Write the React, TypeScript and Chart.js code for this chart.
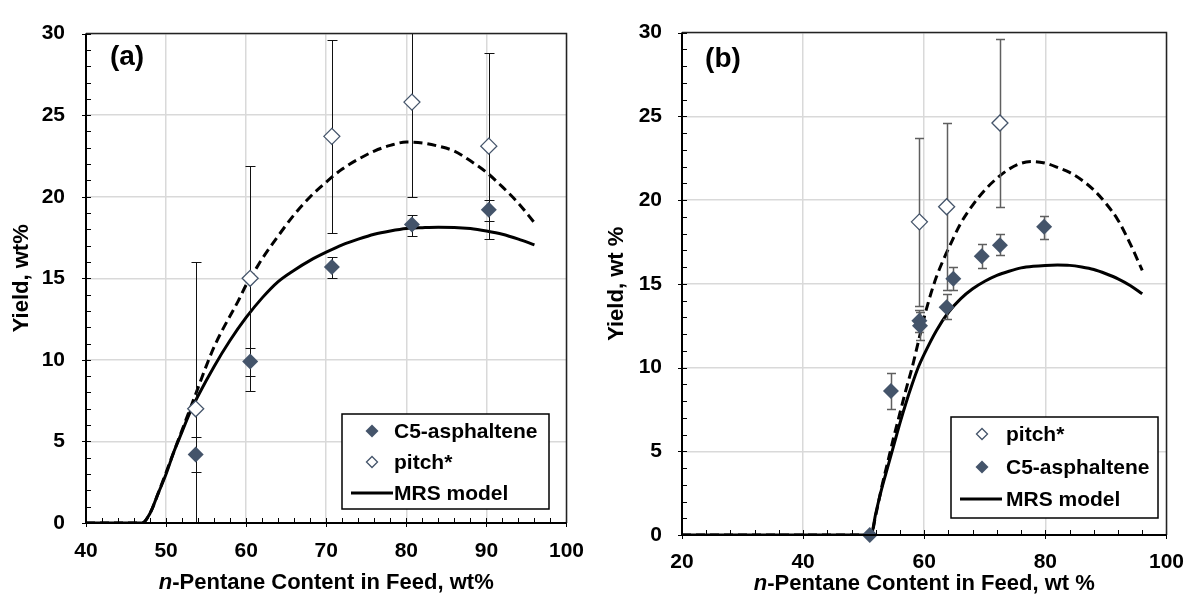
import React, { useEffect, useRef } from 'react';
import { Chart, registerables } from 'chart.js';

Chart.register(...registerables);

const FONT = '"Liberation Sans", Arial, Helvetica, sans-serif';
const MARK = '#44546A';

// ---------- Panel (a) ----------
const A_C5_X = [53.7, 60.5, 70.7, 80.7, 90.3];
const A_C5_Y = [4.2, 9.9, 15.7, 18.3, 19.2];
const A_C5_LO = [3.1, 9.0, 15.0, 17.6, 18.5];
const A_C5_HI = [5.3, 10.7, 16.3, 18.9, 19.8];

const A_PITCH_X = [53.7, 60.5, 70.7, 80.7, 90.3];
const A_PITCH_Y = [7.0, 15.0, 23.7, 25.8, 23.1];
const A_PITCH_LO = [-2.0, 8.1, 17.8, 20.0, 17.4];
const A_PITCH_HI = [16.0, 21.9, 29.6, 31.6, 28.8];

const A_MRS_X = [40, 47, 48, 49, 50, 51, 52, 53, 54, 56, 58, 60, 62, 64, 66, 68, 70, 72, 74, 76, 78, 80, 82, 84, 86, 88, 90, 92, 94, 96];
const A_MRS_Y = [0, 0, 0.6, 1.8, 3.0, 4.4, 5.6, 6.8, 7.8, 9.6, 11.2, 12.6, 13.8, 14.8, 15.5, 16.1, 16.6, 17.05, 17.4, 17.7, 17.9, 18.05, 18.1, 18.13, 18.12, 18.05, 17.9, 17.7, 17.4, 17.05];

const A_DASH_X = [40, 47, 48, 49, 50, 51, 52, 53, 54, 55, 56, 57, 58, 59, 60, 61, 62, 64, 66, 68, 70, 72, 74, 76, 78, 80, 82, 84, 86, 88, 90, 92, 94, 96];
const A_DASH_Y = [0, 0, 0.6, 1.8, 3.1, 4.4, 5.7, 7.0, 8.3, 9.6, 10.8, 11.8, 12.7, 13.6, 14.6, 15.4, 16.2, 17.6, 18.9, 20.0, 20.9, 21.7, 22.3, 22.8, 23.15, 23.35, 23.3, 23.1, 22.8, 22.2, 21.5, 20.6, 19.6, 18.4];

// ---------- Panel (b) ----------
const B_PITCH_X = [59.2, 63.7, 72.5];
const B_PITCH_Y = [18.7, 19.6, 24.6];
const B_PITCH_LO = [13.7, 14.6, 19.6];
const B_PITCH_HI = [23.7, 24.6, 29.6];

const B_C5_X = [51.0, 54.5, 59.2, 59.3, 63.7, 64.8, 69.5, 72.5, 79.8];
const B_C5_Y = [0, 8.6, 12.8, 12.5, 13.6, 15.3, 16.65, 17.3, 18.4];
const B_C5_LO: (number | null)[] = [null, 7.55, 12.15, 11.65, 12.9, 14.6, 15.95, 16.7, 17.7];
const B_C5_HI: (number | null)[] = [null, 9.7, 13.45, 13.3, 14.4, 16.0, 17.35, 18.0, 19.05];

const B_MRS_X = [20, 51.2, 52, 53, 54, 55, 56, 57, 58, 59, 60, 62, 64, 66, 68, 70, 72, 74, 76, 78, 80, 82, 84, 86, 88, 90, 92, 94, 96];
const B_MRS_Y = [0, 0, 1.3, 2.8, 4.1, 5.4, 6.7, 7.9, 9.0, 10.0, 10.8, 12.2, 13.3, 14.1, 14.7, 15.15, 15.5, 15.75, 15.95, 16.05, 16.1, 16.12, 16.1, 16.0, 15.85, 15.6, 15.3, 14.9, 14.4];

const B_DASH_X = [20, 51.2, 52, 53, 54, 55, 56, 57, 58, 59, 60, 61, 62, 63, 64, 66, 68, 70, 72, 74, 76, 78, 80, 82, 84, 86, 88, 90, 92, 94, 96];
const B_DASH_Y = [0, 0, 1.2, 2.9, 4.4, 5.9, 7.3, 8.7, 10.0, 11.5, 13.0, 14.3, 15.4, 16.3, 17.1, 18.6, 19.7, 20.6, 21.3, 21.85, 22.2, 22.3, 22.2, 21.95, 21.65, 21.2, 20.6, 19.8, 18.8, 17.4, 15.8];

// ---------- labels ----------
const Y_TICKS_MAX = 30;
const A_X_RANGE = [40, 100];
const B_X_RANGE = [20, 100];
const A_LABEL = '(a)';
const B_LABEL = '(b)';
const A_Y_TITLE = 'Yield, wt%';
const B_Y_TITLE = 'Yield, wt %';
const A_X_TITLE_REST = '-Pentane Content in Feed, wt%';
const B_X_TITLE_REST = '-Pentane Content in Feed, wt %';
const LEG_C5 = 'C5-asphaltene';
const LEG_PITCH = 'pitch*';
const LEG_MRS = 'MRS model';

type Cfg = {
  width: number;
  height: number;
  area: { left: number; top: number; right: number; bottom: number };
  xRange: number[];
  xStep: number;
  xMinor: number;
  xPad: number;
  yPad: number;
  label: string;
  labelPos: [number, number];
  yTitle: string;
  yTitleX: number;
  xTitleRest: string;
  xTitleY: number;
  c5: { x: number[]; y: number[]; lo: (number | null)[]; hi: (number | null)[] };
  pitch: { x: number[]; y: number[]; lo: (number | null)[]; hi: (number | null)[] };
  mrs: { x: number[]; y: number[] };
  dash: { x: number[]; y: number[] };
  errColor: string;
  errWidth: number;
  errCap: number;
  legend: { x: number; y: number; w: number; h: number; rows: number[]; order: string[]; markerX: number; textX: number; line0: number; line1: number };
};

const PANEL_A: Cfg = {
  width: 600,
  height: 598,
  area: { left: 86, top: 15, right: 567, bottom: 523 },
  xRange: A_X_RANGE,
  xStep: 10,
  xMinor: 2,
  xPad: 16,
  yPad: 21,
  label: A_LABEL,
  labelPos: [127, 57],
  yTitle: A_Y_TITLE,
  yTitleX: 22,
  xTitleRest: A_X_TITLE_REST,
  xTitleY: 583,
  c5: { x: A_C5_X, y: A_C5_Y, lo: A_C5_LO, hi: A_C5_HI },
  pitch: { x: A_PITCH_X, y: A_PITCH_Y, lo: A_PITCH_LO, hi: A_PITCH_HI },
  mrs: { x: A_MRS_X, y: A_MRS_Y },
  dash: { x: A_DASH_X, y: A_DASH_Y },
  errColor: '#111',
  errWidth: 1,
  errCap: 5,
  legend: { x: 342, y: 414, w: 207, h: 95, rows: [431, 462, 493], order: ['c5', 'pitch', 'mrs'], markerX: 372, textX: 394, line0: 351, line1: 393 },
};

const PANEL_B: Cfg = {
  width: 599,
  height: 598,
  area: { left: 82, top: 22, right: 573, bottom: 535 },
  xRange: B_X_RANGE,
  xStep: 20,
  xMinor: 4,
  xPad: 15,
  yPad: 20,
  label: B_LABEL,
  labelPos: [123, 59],
  yTitle: B_Y_TITLE,
  yTitleX: 17,
  xTitleRest: B_X_TITLE_REST,
  xTitleY: 584,
  c5: { x: B_C5_X, y: B_C5_Y, lo: B_C5_LO, hi: B_C5_HI },
  pitch: { x: B_PITCH_X, y: B_PITCH_Y, lo: B_PITCH_LO, hi: B_PITCH_HI },
  mrs: { x: B_MRS_X, y: B_MRS_Y },
  dash: { x: B_DASH_X, y: B_DASH_Y },
  errColor: '#5f5f5f',
  errWidth: 1.5,
  errCap: 4.5,
  legend: { x: 351, y: 417, w: 207, h: 101, rows: [434, 467, 499], order: ['pitch', 'c5', 'mrs'], markerX: 382, textX: 406, line0: 360, line1: 402 },
};

const pts = (xs: number[], ys: number[]) => xs.map((x, i) => ({ x, y: ys[i] }));

function diamond(ctx: CanvasRenderingContext2D, x: number, y: number, r: number, filled: boolean) {
  ctx.beginPath();
  ctx.moveTo(x - r, y);
  ctx.lineTo(x, y - r);
  ctx.lineTo(x + r, y);
  ctx.lineTo(x, y + r);
  ctx.closePath();
  if (filled) {
    ctx.fillStyle = MARK;
    ctx.fill();
  } else {
    ctx.fillStyle = '#fff';
    ctx.fill();
    ctx.strokeStyle = MARK;
    ctx.lineWidth = 1.3;
    ctx.stroke();
  }
}

function makeChart(canvas: HTMLCanvasElement, cfg: Cfg) {
  const drawErr = (chart: any, s: Cfg['c5']) => {
    const { ctx, chartArea: ca } = chart;
    const xs = chart.scales.x;
    const ys = chart.scales.y;
    ctx.save();
    ctx.beginPath();
    ctx.rect(ca.left, ca.top, ca.right - ca.left, ca.bottom - ca.top);
    ctx.clip();
    ctx.strokeStyle = cfg.errColor;
    ctx.lineWidth = cfg.errWidth;
    for (let i = 0; i < s.x.length; i++) {
      const lo = s.lo[i];
      const hi = s.hi[i];
      if (lo == null || hi == null) continue;
      const px = Math.round(xs.getPixelForValue(s.x[i])) + 0.5;
      const p1 = Math.round(ys.getPixelForValue(lo)) + 0.5;
      const p2 = Math.round(ys.getPixelForValue(hi)) + 0.5;
      ctx.beginPath();
      ctx.moveTo(px, p1);
      ctx.lineTo(px, p2);
      ctx.moveTo(px - cfg.errCap, p1);
      ctx.lineTo(px + cfg.errCap, p1);
      ctx.moveTo(px - cfg.errCap, p2);
      ctx.lineTo(px + cfg.errCap, p2);
      ctx.stroke();
    }
    ctx.restore();
  };

  const decor = {
    id: 'decor',
    beforeDatasetDraw(chart: any, args: any) {
      if (args.index === 0) drawErr(chart, cfg.c5);
      if (args.index === 1) drawErr(chart, cfg.pitch);
    },
    afterDraw(chart: any) {
      const { ctx, chartArea: ca } = chart;
      const xs = chart.scales.x;
      const ys = chart.scales.y;
      ctx.save();
      // ticks
      ctx.strokeStyle = '#000';
      ctx.lineWidth = 1;
      ctx.beginPath();
      for (let v = 0; v <= Y_TICKS_MAX; v += 1) {
        const py = Math.round(ys.getPixelForValue(v)) + 0.5;
        const major = v % 5 === 0;
        ctx.moveTo(ca.left - (major ? 4 : 0), py);
        ctx.lineTo(ca.left + 5, py);
      }
      for (let v = cfg.xRange[0]; v <= cfg.xRange[1]; v += cfg.xMinor) {
        const px = Math.round(xs.getPixelForValue(v)) + 0.5;
        const major = (v - cfg.xRange[0]) % cfg.xStep === 0;
        ctx.moveTo(px, ca.bottom + (major ? 4 : 0));
        ctx.lineTo(px, ca.bottom - 5);
      }
      ctx.stroke();
      // frame
      ctx.strokeStyle = '#222';
      ctx.lineWidth = 1.5;
      ctx.beginPath();
      ctx.moveTo(ca.left, ca.top);
      ctx.lineTo(ca.right, ca.top);
      ctx.lineTo(ca.right, ca.bottom);
      ctx.stroke();
      ctx.strokeStyle = '#000';
      ctx.lineWidth = 2;
      ctx.beginPath();
      ctx.moveTo(ca.left, ca.top);
      ctx.lineTo(ca.left, ca.bottom);
      ctx.lineTo(ca.right, ca.bottom);
      ctx.stroke();

      // panel label
      ctx.fillStyle = '#000';
      ctx.font = `bold 28px ${FONT}`;
      ctx.textAlign = 'center';
      ctx.textBaseline = 'middle';
      ctx.fillText(cfg.label, cfg.labelPos[0], cfg.labelPos[1]);

      // y title
      ctx.save();
      ctx.translate(cfg.yTitleX, (ca.top + ca.bottom) / 2);
      ctx.rotate(-Math.PI / 2);
      ctx.font = `bold 22px ${FONT}`;
      ctx.fillText(cfg.yTitle, 0, 0);
      ctx.restore();

      // x title with italic n
      const cx = (ca.left + ca.right) / 2;
      ctx.font = `italic bold 22px ${FONT}`;
      const w1 = ctx.measureText('n').width;
      ctx.font = `bold 22px ${FONT}`;
      const w2 = ctx.measureText(cfg.xTitleRest).width;
      const x0 = cx - (w1 + w2) / 2;
      ctx.textAlign = 'left';
      ctx.font = `italic bold 22px ${FONT}`;
      ctx.fillText('n', x0, cfg.xTitleY);
      ctx.font = `bold 22px ${FONT}`;
      ctx.fillText(cfg.xTitleRest, x0 + w1, cfg.xTitleY);

      // legend
      const L = cfg.legend;
      ctx.fillStyle = '#fff';
      ctx.fillRect(L.x, L.y, L.w, L.h);
      ctx.strokeStyle = '#000';
      ctx.lineWidth = 1.5;
      ctx.strokeRect(L.x, L.y, L.w, L.h);
      ctx.font = `bold 21px ${FONT}`;
      ctx.textAlign = 'left';
      ctx.textBaseline = 'middle';
      L.order.forEach((key, i) => {
        const ry = L.rows[i];
        if (key === 'c5') {
          diamond(ctx, L.markerX, ry, 6.5, true);
        } else if (key === 'pitch') {
          diamond(ctx, L.markerX, ry, 5.5, false);
        } else {
          ctx.strokeStyle = '#000';
          ctx.lineWidth = 3;
          ctx.beginPath();
          ctx.moveTo(L.line0, ry);
          ctx.lineTo(L.line1, ry);
          ctx.stroke();
        }
        ctx.fillStyle = '#000';
        const txt = key === 'c5' ? LEG_C5 : key === 'pitch' ? LEG_PITCH : LEG_MRS;
        ctx.fillText(txt, L.textX, ry + 1);
      });
      ctx.restore();
    },
  };

  const tickFont = { family: FONT, size: 21, weight: 'bold' as const };

  return new Chart(canvas, {
    type: 'scatter',
    data: {
      datasets: [
        {
          label: LEG_C5,
          data: pts(cfg.c5.x, cfg.c5.y),
          pointStyle: 'rectRot',
          pointRadius: 8,
          pointBackgroundColor: MARK,
          pointBorderColor: MARK,
          pointBorderWidth: 0,
          showLine: false,
          clip: false as any,
        },
        {
          label: LEG_PITCH,
          data: pts(cfg.pitch.x, cfg.pitch.y),
          pointStyle: 'rectRot',
          pointRadius: 8,
          pointBackgroundColor: '#fff',
          pointBorderColor: MARK,
          pointBorderWidth: 1.3,
          showLine: false,
          clip: false as any,
        },
        {
          label: LEG_MRS,
          data: pts(cfg.mrs.x, cfg.mrs.y),
          showLine: true,
          borderColor: '#000',
          borderWidth: 3,
          pointRadius: 0,
          cubicInterpolationMode: 'monotone',
          fill: false,
        } as any,
        {
          label: 'dashed',
          data: pts(cfg.dash.x, cfg.dash.y),
          showLine: true,
          borderColor: '#000',
          borderWidth: 3,
          borderDash: [9, 5],
          pointRadius: 0,
          cubicInterpolationMode: 'monotone',
          fill: false,
        } as any,
      ],
    },
    options: {
      animation: false,
      responsive: false,
      devicePixelRatio: 1,
      events: [],
      layout: { padding: { left: 0, top: cfg.area.top, right: cfg.width - cfg.area.right, bottom: 0 } },
      plugins: { legend: { display: false }, tooltip: { enabled: false }, title: { display: false } },
      scales: {
        x: {
          type: 'linear',
          min: cfg.xRange[0],
          max: cfg.xRange[1],
          ticks: { stepSize: cfg.xStep, font: tickFont, color: '#000', padding: cfg.xPad, maxRotation: 0, autoSkip: false },
          grid: { color: '#d9d9d9', lineWidth: 1.5, drawTicks: false },
          border: { display: false },
          afterFit: (s: any) => {
            s.height = cfg.height - cfg.area.bottom;
          },
        },
        y: {
          type: 'linear',
          min: 0,
          max: Y_TICKS_MAX,
          ticks: { stepSize: 5, font: tickFont, color: '#000', padding: cfg.yPad, autoSkip: false },
          grid: { color: '#d9d9d9', lineWidth: 1.5, drawTicks: false },
          border: { display: false },
          afterFit: (s: any) => {
            s.width = cfg.area.left;
          },
        },
      },
    },
    plugins: [decor],
  } as any);
}

export default function App() {
  const refA = useRef<HTMLCanvasElement>(null);
  const refB = useRef<HTMLCanvasElement>(null);
  useEffect(() => {
    const a = makeChart(refA.current!, PANEL_A);
    const b = makeChart(refB.current!, PANEL_B);
    return () => {
      a.destroy();
      b.destroy();
    };
  }, []);
  return (
    <div style={{ position: 'fixed', left: 0, top: 0, width: 1199, height: 598, background: '#fff' }}>
      <canvas ref={refA} width={600} height={598} style={{ position: 'absolute', left: 0, top: 0, width: 600, height: 598 }} />
      <canvas ref={refB} width={599} height={598} style={{ position: 'absolute', left: 600, top: 0, width: 599, height: 598 }} />
    </div>
  );
}
